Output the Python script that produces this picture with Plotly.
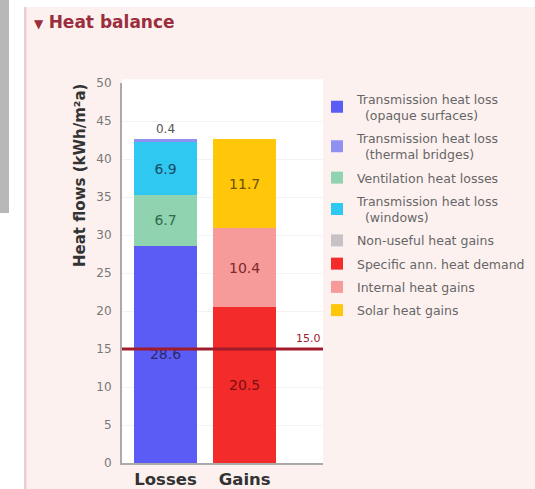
import plotly.graph_objects as go

categories = ["Losses", "Gains"]

# stacking order (bottom -> top)
series_names = [
    "Transmission heat loss<br>  (opaque surfaces)",
    "Ventilation heat losses",
    "Transmission heat loss<br>  (windows)",
    "Transmission heat loss<br>  (thermal bridges)",
    "Specific ann. heat demand",
    "Internal heat gains",
    "Solar heat gains",
    "Non-useful heat gains",
]
opaque = [28.6, None]
ventilation = [6.7, None]
windows = [6.9, None]
thermal = [0.4, None]
demand = [None, 20.5]
internal = [None, 10.4]
solar = [None, 11.7]
nonuseful = [None, 0]
series_values = [opaque, ventilation, windows, thermal, demand, internal, solar, nonuseful]
legend_ranks = [1, 3, 4, 2, 6, 7, 8, 5]
colors = ["#5b5bf5", "#8fd3b0", "#2ec8f0", "#9090f0", "#f42b2b", "#f79a9a", "#ffc60a", "#c7c2c6"]
text_colors = ["#2a2a6a", "#2f6b4c", "#1a4a66", "#555555", "#7a1010", "#7a2a2a", "#6a5200", "#555"]
limit_value = 15.0
y_title = "Heat flows (kWh/m²a)"

FONT = "DejaVu Sans, Arial, sans-serif"
W, H = 535, 489
ml, mr, mt, mb = 122, 212, 83, 26
PW, PH = W - ml - mr, H - mt - mb

def px(xp):
    return (xp - ml) / PW

def py(yp):
    return (H - mb - yp) / PH

fig = go.Figure()
for i, (name, vals, rank, col, tcol) in enumerate(zip(series_names, series_values, legend_ranks, colors, text_colors)):
    texts = [("" if v is None or v == 0 else f"{v:.1f}") for v in vals]
    is_thin = "(thermal" in name
    fig.add_trace(go.Bar(
        x=categories, y=vals, name=name, legendrank=rank, legendgroup=f"g{rank}",
        marker=dict(color=col, line=dict(width=0)),
        text=texts,
        textposition="outside" if is_thin else "inside",
        insidetextanchor="middle",
        textfont=dict(color=tcol, size=14 if not is_thin else 12, family=FONT),
        cliponaxis=False,
        width=0.79,
        hoverinfo="skip",
    ))

fig.update_layout(
    width=W, height=H,
    margin=dict(l=ml, r=mr, t=mt, b=mb, pad=0, autoexpand=False),
    paper_bgcolor="white",
    plot_bgcolor="white",
    barmode="stack",
    font=dict(family=FONT, color="#555"),
    showlegend=True,
    legend=dict(
        x=px(317), xanchor="left", y=py(84), yanchor="top", xref="paper", yref="paper",
        traceorder="grouped", bgcolor="rgba(0,0,0,0)",
        font=dict(size=12.5, color="#666", family=FONT),
        itemwidth=30, tracegroupgap=4, itemsizing="constant",
    ),
    xaxis=dict(
        range=[-0.55, 1.99], showgrid=False, showline=True, linecolor="#aaa", linewidth=2,
        ticks="", tickfont=dict(size=16.5, color="#333", family=FONT, weight="bold"),
        fixedrange=True,
    ),
    yaxis=dict(
        range=[0, 50], dtick=5, showgrid=True, gridcolor="#f3f3f3", showline=True,
        linecolor="#aaa", linewidth=2, ticks="", zeroline=False, ticklabelstandoff=6,
        tickfont=dict(size=12, color="#777", family=FONT),
    ),
    shapes=[
        dict(type="rect", xref="paper", yref="paper", x0=px(24), x1=px(W), y0=py(H), y1=py(7),
             fillcolor="#fdf1f0", line=dict(width=0), layer="below"),
        dict(type="rect", xref="paper", yref="paper", x0=px(24), x1=px(26.5), y0=py(H), y1=py(7),
             fillcolor="#e9cfd2", line=dict(width=0), layer="below"),
        dict(type="rect", xref="paper", yref="paper", x0=px(0), x1=px(9), y0=py(213), y1=py(0),
             fillcolor="#b8b8b8", line=dict(width=0), layer="below"),
        dict(type="rect", xref="x domain", yref="y domain", x0=0, x1=1, y0=0, y1=1.01,
             fillcolor="white", line=dict(width=0), layer="below"),
        dict(type="line", xref="x domain", yref="y", x0=0, x1=1, y0=limit_value, y1=limit_value,
             line=dict(color="#a01c2c", width=3), layer="above"),
    ],
    annotations=[
        dict(text="<span style='font-size:12px'>▼</span> <b>Heat balance</b>", xref="paper", yref="paper",
             x=px(32), y=py(22), xanchor="left", yanchor="middle", showarrow=False,
             font=dict(size=17, color="#9b2d3c", family=FONT)),
        dict(text=f"<b>{y_title}</b>", xref="paper", yref="paper", x=px(80), y=py(176),
             xanchor="center", yanchor="middle", textangle=-90, showarrow=False,
             font=dict(size=15, color="#333", family=FONT)),
        dict(text=f"{limit_value:.1f}", xref="x domain", yref="y", x=1.0, y=limit_value,
             xanchor="right", yanchor="bottom", yshift=2, showarrow=False,
             font=dict(size=11, color="#a01c2c", family=FONT)),
    ],
)

fig.write_html("out.html", config={"displayModeBar": False},
               post_script="document.body.style.margin='0px';")
